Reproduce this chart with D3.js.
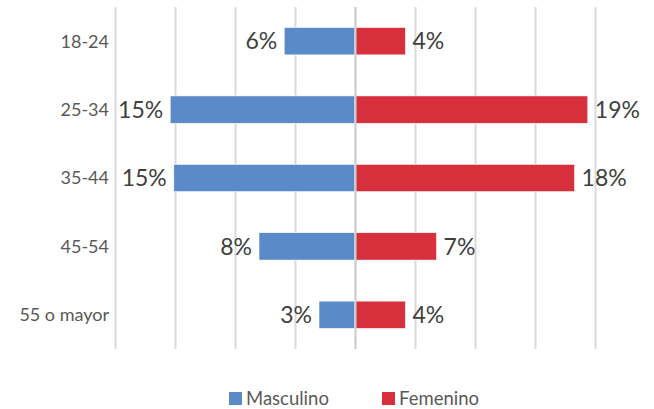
<!DOCTYPE html>
<html>
<head>
<meta charset="utf-8">
<script src="https://cdn.jsdelivr.net/npm/d3@7"></script>
<style>
  body{margin:0;background:#fff;}
  text{font-family:Lato,"Open Sans",sans-serif;}
</style>
</head>
<body>
<div id="chart"></div>
<script>
// datos
var categories = ['18-24','25-34','35-44','45-54','55 o mayor'];
var masculino = [5.9, 15.4, 15.1, 8.0, 3.0];
var femenino = [4.2, 19.4, 18.3, 6.8, 4.2];
var seriesNames = ['Masculino','Femenino'];
var gridTicks = [-20,-15,-10,-5,0,5,10,15,20];

var colors = {Masculino:'#5a8ac8', Femenino:'#d72f3c'};
var W = 654, H = 409;

var svg = d3.select('#chart').append('svg')
  .attr('width', W).attr('height', H);

var x = d3.scaleLinear().domain([-20,20]).range([115,595]);
var y = d3.scaleBand().domain(categories).range([7,349]).paddingInner(0.6).paddingOuter(0.3);

// gridlines
svg.append('g').selectAll('line').data(gridTicks).enter().append('line')
  .attr('x1', function(d){return x(d)+0.5})
  .attr('x2', function(d){return x(d)+0.5})
  .attr('y1', 7).attr('y2', 349)
  .attr('stroke', '#d9d9d9').attr('stroke-width', 2);

var rows = categories.map(function(c,i){ return {cat:c, m:masculino[i], f:femenino[i]} });

// barras masculino
svg.append('g').selectAll('rect').data(rows).enter().append('rect')
  .attr('x', function(d){return x(-d.m)})
  .attr('y', function(d){return y(d.cat)})
  .attr('width', function(d){return x(0)-x(-d.m)})
  .attr('height', y.bandwidth())
  .attr('fill', colors.Masculino)
  .attr('stroke','#fff').attr('stroke-width',0.6);

// barras femenino
svg.append('g').selectAll('rect').data(rows).enter().append('rect')
  .attr('x', x(0))
  .attr('y', function(d){return y(d.cat)})
  .attr('width', function(d){return x(d.f)-x(0)})
  .attr('height', y.bandwidth())
  .attr('fill', colors.Femenino)
  .attr('stroke','#fff').attr('stroke-width',0.6);

// eje central
svg.append('line')
  .attr('x1', x(0)+0.5).attr('x2', x(0)+0.5)
  .attr('y1', 7).attr('y2', 349)
  .attr('stroke', '#d0d0d0').attr('stroke-width', 2);

// etiquetas de datos
svg.append('g').selectAll('text').data(rows).enter().append('text')
  .attr('x', function(d){return x(-d.m)-7})
  .attr('y', function(d){return y(d.cat)+y.bandwidth()/2})
  .attr('dy','0.36em')
  .attr('text-anchor','end')
  .attr('font-size', 23).attr('fill','#404040')
  .text(function(d){return Math.round(d.m)+'%'});

svg.append('g').selectAll('text').data(rows).enter().append('text')
  .attr('x', function(d){return x(d.f)+7})
  .attr('y', function(d){return y(d.cat)+y.bandwidth()/2})
  .attr('dy','0.36em')
  .attr('text-anchor','start')
  .attr('font-size', 23).attr('fill','#404040')
  .text(function(d){return Math.round(d.f)+'%'});

// categorias
svg.append('g').selectAll('text').data(categories).enter().append('text')
  .attr('x', 109)
  .attr('y', function(d){return y(d)+y.bandwidth()/2})
  .attr('dy','0.36em')
  .attr('text-anchor','end')
  .attr('font-size', 18).attr('fill','#595959')
  .text(function(d){return d});

// leyenda
var legX = [229, 382];
var leg = svg.append('g').selectAll('g').data(seriesNames).enter().append('g')
  .attr('transform', function(d,i){return 'translate('+legX[i]+',392)'});
leg.append('rect').attr('width',13).attr('height',13)
  .attr('fill', function(d){return colors[d]});
leg.append('text').attr('x',17).attr('y',13)
  .attr('font-size',18.5).attr('fill','#595959')
  .text(function(d){return d});
</script>
</body>
</html>
